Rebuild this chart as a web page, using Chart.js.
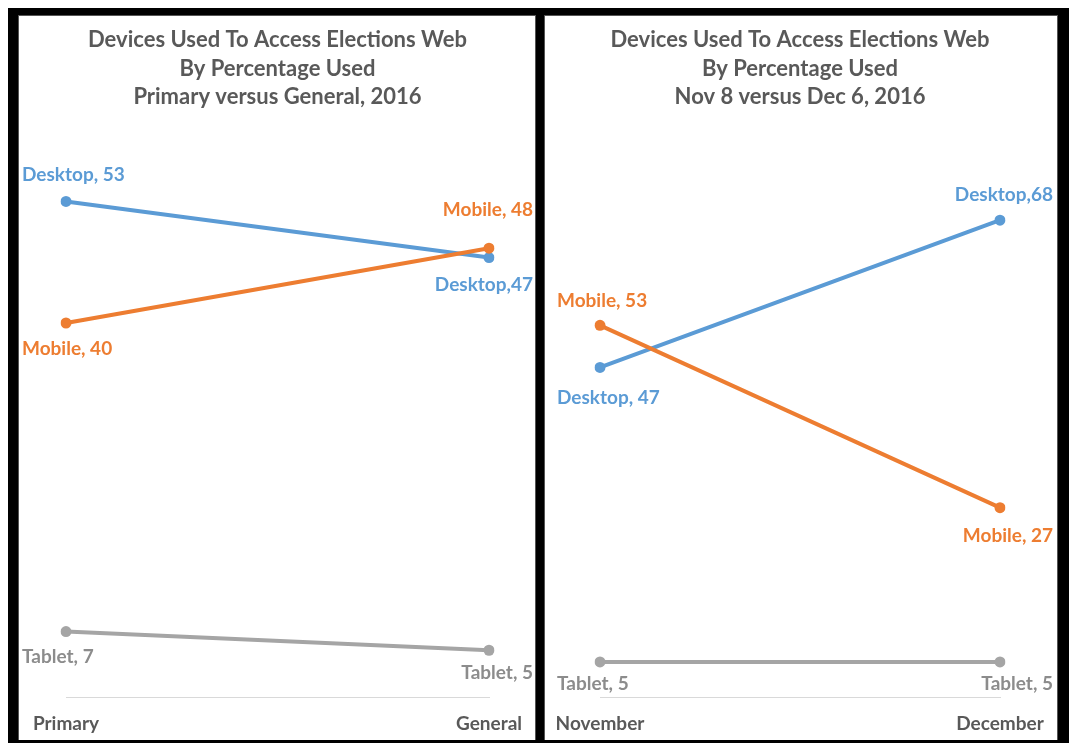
<!DOCTYPE html>
<html>
<head>
<meta charset="utf-8">
<script src="https://cdn.jsdelivr.net/npm/chart.js@4.4.1/dist/chart.umd.min.js"></script>
<style>
  html, body { margin: 0; padding: 0; background: #ffffff; }
  body { width: 1069px; height: 743px; position: relative; overflow: hidden; }
  #frame { position: absolute; left: 8px; top: 8px; width: 1061px; height: 735px; background: #000; }
  .panel { position: absolute; top: 7px; height: 725px; background: #fff; box-sizing: border-box; border: 1px solid #555; border-bottom: none; }
  #pl { left: 10px; width: 518px; }
  #pr { left: 536px; width: 514px; }
  canvas { position: absolute; }
</style>
</head>
<body>
<div id="frame">
  <div id="pl" class="panel"></div>
  <div id="pr" class="panel"></div>
</div>
<canvas id="c1" width="516" height="724" style="left:19px;top:16px;width:516px;height:724px"></canvas>
<canvas id="c2" width="512" height="724" style="left:545px;top:16px;width:512px;height:724px"></canvas>
<script>
// ---------- data ----------
const leftTitle = ['Devices Used To Access Elections Web', 'By Percentage Used', 'Primary versus General, 2016'];
const leftCategories = ['Primary', 'General'];
const leftDesktop = [53, 47];
const leftMobile = [40, 48];
const leftTablet = [7, 5];
const leftDesktopLabels = ['Desktop, 53', 'Desktop,47'];
const leftMobileLabels = ['Mobile, 40', 'Mobile, 48'];
const leftTabletLabels = ['Tablet, 7', 'Tablet, 5'];

const rightTitle = ['Devices Used To Access Elections Web', 'By Percentage Used', 'Nov 8 versus Dec 6, 2016'];
const rightCategories = ['November', 'December'];
const rightDesktop = [47, 68];
const rightMobile = [53, 27];
const rightTablet = [5, 5];
const rightDesktopLabels = ['Desktop, 47', 'Desktop,68'];
const rightMobileLabels = ['Mobile, 53', 'Mobile, 27'];
const rightTabletLabels = ['Tablet, 5', 'Tablet, 5'];

// ---------- styles ----------
const BLUE = '#5B9BD5', ORANGE = '#ED7D31', GRAY = '#A5A5A5', TABLET_TEXT = '#8C8C8C';
const TEXT = '#595959';
const FONT = 'Lato, "Open Sans", sans-serif';

// label placement (baseline offset from point: [first, last]; horizontal offset [first, last])
const leftPlacement = { dy: { Desktop: [-20, 33], Mobile: [32, -32], Tablet: [31, 29] }, dx: [-44, 44] };
const rightPlacement = { dy: { Desktop: [37, -19], Mobile: [-18, 34], Tablet: [28, 28] }, dx: [-43, 53] };

const pointLabels = {
  id: 'pointLabels',
  afterDatasetsDraw(chart, args, opts) {
    const ctx = chart.ctx;
    ctx.save();
    ctx.font = 'bold 19px ' + FONT;
    ctx.textBaseline = 'alphabetic';
    chart.data.datasets.forEach((ds, di) => {
      const meta = chart.getDatasetMeta(di);
      meta.data.forEach((pt, i) => {
        const last = i === meta.data.length - 1;
        ctx.textAlign = last ? 'right' : 'left';
        ctx.fillStyle = ds.labelColor;
        const x = pt.x + opts.placement.dx[last ? 1 : 0];
        const y = pt.y + opts.placement.dy[ds.label][last ? 1 : 0];
        ctx.fillText(ds.pointText[i], x, y);
      });
    });
    ctx.restore();
  }
};

function makeChart(id, title, cats, desktop, mobile, tablet, dl, ml, tl, yMax, pad, placement) {
  return new Chart(document.getElementById(id), {
    type: 'line',
    data: {
      labels: cats,
      datasets: [
        { label: 'Mobile', data: mobile, pointText: ml, borderColor: ORANGE, backgroundColor: ORANGE, labelColor: ORANGE },
        { label: 'Desktop', data: desktop, pointText: dl, borderColor: BLUE, backgroundColor: BLUE, labelColor: BLUE },
        { label: 'Tablet', data: tablet, pointText: tl, borderColor: GRAY, backgroundColor: GRAY, labelColor: TABLET_TEXT }
      ]
    },
    options: {
      responsive: false,
      animation: false,
      devicePixelRatio: 1,
      elements: {
        line: { borderWidth: 4, tension: 0, borderCapStyle: 'round' },
        point: { radius: 5.5, borderWidth: 0, hoverRadius: 5.5 }
      },
      layout: { autoPadding: false, padding: { left: pad[0], right: pad[1], top: 0, bottom: 0 } },
      plugins: {
        legend: { display: false },
        tooltip: { enabled: false },
        title: {
          display: true, text: title, color: TEXT,
          font: { family: FONT, size: 22, weight: 'bold', lineHeight: '28.5px' },
          padding: { top: 10, bottom: 24.5 }
        },
        pointLabels: { placement: placement }
      },
      scales: {
        x: {
          offset: false,
          grid: { display: false, drawTicks: false },
          border: { display: true, color: '#D9D9D9', width: 1 },
          ticks: { color: TEXT, font: { family: FONT, size: 19, weight: 'bold' }, padding: 15, maxRotation: 0, autoSkip: false },
          afterFit(scale) { scale.height = 43; scale.paddingLeft = 0; scale.paddingRight = 0; }
        },
        y: { display: false, min: 0, max: yMax }
      }
    },
    plugins: [pointLabels]
  });
}

makeChart('c1', leftTitle, leftCategories, leftDesktop, leftMobile, leftTablet,
  leftDesktopLabels, leftMobileLabels, leftTabletLabels, 60, [47, 46], leftPlacement);
makeChart('c2', rightTitle, rightCategories, rightDesktop, rightMobile, rightTablet,
  rightDesktopLabels, rightMobileLabels, rightTabletLabels, 80, [55, 57], rightPlacement);
</script>
</body>
</html>
